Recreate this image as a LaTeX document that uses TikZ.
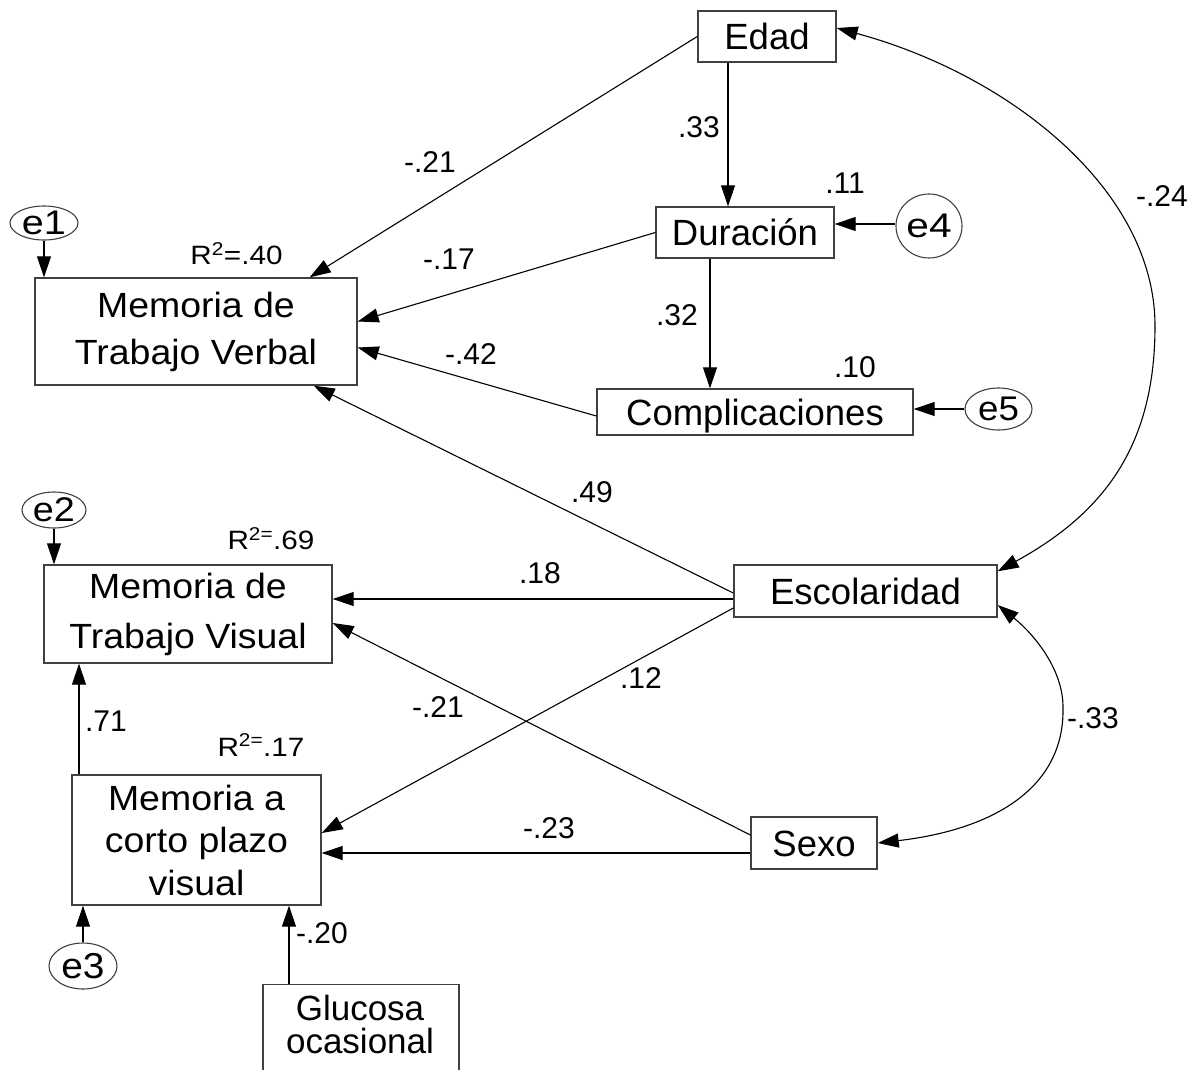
\documentclass[tikz,border=0pt]{standalone}
\usepackage{fontspec}
\usepackage{graphicx}
\setmainfont{Liberation Sans}
\newfontfamily\wideA[FakeStretch=1.12]{Liberation Sans}
\newfontfamily\wideB[FakeStretch=1.07]{Liberation Sans}
\usetikzlibrary{arrows.meta,shapes.geometric}
\tikzset{
  box/.style={draw=black!75, line width=1.4pt, rectangle, inner sep=0pt, font=\fontsize{36.5}{40}\selectfont},
  onebox/.style={box, text height=26pt, text depth=0pt},
  membox/.style={box, align=center},
  err/.style={draw=black!75, line width=1.1pt, ellipse, inner sep=-6pt, font=\fontsize{36}{40}\selectfont},
  coef/.style={inner sep=0pt, font=\fontsize{30}{32}\selectfont},
  rsq/.style={inner sep=0pt, font=\wideA\fontsize{26.5}{28}\selectfont},
  arr/.style={line width=1.1pt, -{Triangle[length=21pt,width=14pt]}},
  dbl/.style={line width=1.1pt, {Triangle[length=21pt,width=14pt]}-{Triangle[length=21pt,width=14pt]}},
}
\begin{document}
\begin{tikzpicture}[x=1pt,y=-1pt]
\useasboundingbox (0,0) rectangle (1197,1069);
\clip (0,0) rectangle (1197,1069);

% boxes
\node[membox, minimum width=322pt, minimum height=107pt, font=\wideB\fontsize{35}{47}\selectfont] (mtverbal) at (196,331.5) {Memoria de\\Trabajo Verbal};
\node[membox, minimum width=288pt, minimum height=98pt, font=\wideB\fontsize{35}{50}\selectfont] (mtvisual) at (188,614) {Memoria de\\Trabajo Visual};
\node[membox, minimum width=249pt, minimum height=130pt, font=\wideB\fontsize{35}{42.5}\selectfont] (mcp) at (196.5,840) {Memoria a\\corto plazo\\visual};
\node[box, minimum width=196pt, minimum height=120pt, anchor=north] (glu) at (361,984) {};
\node[align=center, inner sep=0pt, font=\fontsize{35}{33}\selectfont] (glutext) at (360,1024) {Glucosa\\ocasional};
\node[onebox, minimum width=138pt, minimum height=51pt] (edad) at (767,36.5) {Edad};
\node[onebox, minimum width=178pt, minimum height=51pt] (duracion) at (745,232.5) {Duración};
\node[onebox, minimum width=316pt, minimum height=46pt] (compl) at (755,412) {Complicaciones};
\node[onebox, minimum width=263pt, minimum height=52pt] (escol) at (865.5,591) {Escolaridad\hspace{14pt}};
\node[onebox, minimum width=126pt, minimum height=52pt] (sexo) at (814,843) {Sexo\hspace{10pt}};

% error terms
\node[err, minimum width=68pt, minimum height=34pt] (e1) at (44,223) {\scalebox{1.1}[0.95]{e1}};
\node[err, minimum width=64pt, minimum height=36pt] (e2) at (54,510) {\scalebox{1.05}[0.95]{e2}};
\node[err, minimum width=68pt, minimum height=46pt] (e3) at (83,966) {\scalebox{1.08}[1.0]{e3}};
\node[err, minimum width=66pt, minimum height=64pt] (e4) at (929,226) {\scalebox{1.13}[0.95]{e4}};
\node[err, minimum width=67pt, minimum height=42pt] (e5) at (998.5,409) {\scalebox{1.02}[0.95]{e5}};

% R2 labels
\node[rsq] (r1) at (236.5,253.5) {R\textsuperscript{2}=.40};
\node[rsq] (r2) at (271,539) {R\textsuperscript{2=}.69};
\node[rsq] (r3) at (261,745) {R\textsuperscript{2=}.17};

% coefficients
\node[coef] (c1) at (699,127) {.33};
\node[coef] (c2) at (845,183) {.11};
\node[coef] (c3) at (677,315) {.32};
\node[coef] (c4) at (855,367) {.10};
\node[coef] (c5) at (1162,196) {-.24};
\node[coef] (c6) at (430,162) {-.21};
\node[coef] (c7) at (449,259) {-.17};
\node[coef] (c8) at (471,354) {-.42};
\node[coef] (c9) at (592,492) {.49};
\node[coef] (c10) at (540,573) {.18};
\node[coef] (c11) at (641,678) {.12};
\node[coef] (c12) at (438,707) {-.21};
\node[coef] (c13) at (549,828) {-.23};
\node[coef] (c14) at (106,721) {.71};
\node[coef] (c15) at (322,933) {-.20};
\node[coef] (c16) at (1093,718) {-.33};

% helper coordinates
\coordinate (gtop) at ([xshift=-72pt]glu.north);
\coordinate (mtop) at ([xshift=-117.5pt]mcp.north);
\coordinate (ebot) at ([xshift=-39pt]edad.south);
\coordinate (dbot) at ([xshift=-35pt]duracion.south);
\coordinate (arcA) at (1155,326);
\coordinate (arcB) at (1063,707);

% vertical / short arrows
\draw[arr] (e1.south) -- (e1.south |- mtverbal.north);
\draw[arr] (e2.south) -- (e2.south |- mtvisual.north);
\draw[arr] (e3.north) -- (e3.north |- mcp.south);
\draw[arr] (gtop) -- (gtop |- mcp.south);
\draw[arr] (mtop) -- (mtop |- mtvisual.south);
\draw[arr] (ebot) -- (ebot |- duracion.north);
\draw[arr] (dbot) -- (dbot |- compl.north);
\draw[arr] ([yshift=2pt]e4.west) -- ([yshift=2pt]e4.west -| duracion.east);
\draw[arr] (e5.west) -- (e5.west -| compl.east);

% paths to Memoria de Trabajo Verbal
\draw[arr] (edad.west) -- ([xshift=-48pt]mtverbal.north east);
\draw[arr] (duracion.west) -- ([yshift=10pt]mtverbal.east);
\draw[arr] ([yshift=-4pt]compl.west) -- ([yshift=-16pt]mtverbal.east);
\draw[arr] ([yshift=-2pt]escol.west) -- ([xshift=-44pt]mtverbal.south east);

% paths from Escolaridad and Sexo
\draw[arr] ([yshift=-8pt]escol.west) -- ([yshift=15pt]mtvisual.east);
\draw[arr] ([yshift=-17pt]escol.west) -- ([yshift=7pt]mcp.east);
\draw[arr] ([yshift=8pt]sexo.west) -- ([yshift=-9pt]mtvisual.east);
\draw[arr] ([yshift=-10pt]sexo.west) -- ([yshift=-13pt]mcp.east);

% covariances
\draw[dbl] ([yshift=8.5pt]edad.east) .. controls (1010,75) and (1155,190) .. (arcA) .. controls (1155,450) and (1100,515) .. ([yshift=-7pt]escol.north east);
\draw[dbl] ([yshift=-14pt]escol.east) .. controls (1035,635) and (1063,670) .. (arcB) .. controls (1065,790) and (990,830) .. (sexo.east);
\end{tikzpicture}
\end{document}
